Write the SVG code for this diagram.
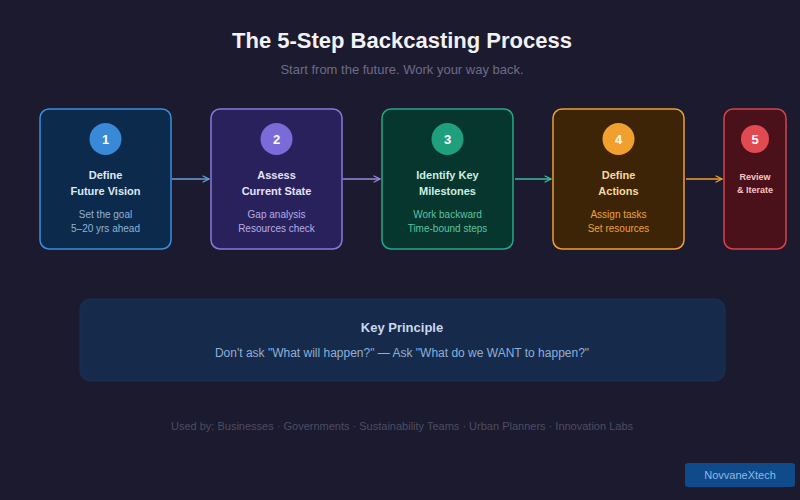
<svg xmlns="http://www.w3.org/2000/svg" width="800" height="500" viewBox="0 0 800 500">
  <style>
    text { font-family: "Liberation Sans", Arial, sans-serif; text-anchor: middle; }
    .box { stroke-width: 1.5; }
    .num { font-size: 13px; font-weight: bold; fill: #ffffff; }
    .ttl { font-size: 11px; font-weight: bold; }
    .sub { font-size: 10px; }
    .con { fill: none; stroke-width: 1.5; }
  </style>
  <defs>
    <marker id="ab" viewBox="0 0 10 10" refX="9" refY="5" markerWidth="8" markerHeight="8" orient="auto" markerUnits="userSpaceOnUse">
      <path d="M1,1 L9,5 L1,9" fill="none" stroke="#6aa0d8" stroke-width="1.6"/>
    </marker>
    <marker id="ap" viewBox="0 0 10 10" refX="9" refY="5" markerWidth="8" markerHeight="8" orient="auto" markerUnits="userSpaceOnUse">
      <path d="M1,1 L9,5 L1,9" fill="none" stroke="#9a88e0" stroke-width="1.6"/>
    </marker>
    <marker id="ag" viewBox="0 0 10 10" refX="9" refY="5" markerWidth="8" markerHeight="8" orient="auto" markerUnits="userSpaceOnUse">
      <path d="M1,1 L9,5 L1,9" fill="none" stroke="#3fbf9c" stroke-width="1.6"/>
    </marker>
    <marker id="ao" viewBox="0 0 10 10" refX="9" refY="5" markerWidth="8" markerHeight="8" orient="auto" markerUnits="userSpaceOnUse">
      <path d="M1,1 L9,5 L1,9" fill="none" stroke="#f0a030" stroke-width="1.6"/>
    </marker>
  </defs>

  <rect x="0" y="0" width="800" height="500" fill="#1b1a2e"/>

  <g id="title">
    <text x="402" y="48" font-size="22" font-weight="bold" fill="#f2f2f6">The 5-Step Backcasting Process</text>
    <text x="402" y="74" font-size="13" fill="#6e6c88">Start from the future. Work your way back.</text>
  </g>

  <g id="connectors">
    <line class="con" x1="172" y1="179" x2="209" y2="179" stroke="#6aa0d8" marker-end="url(#ab)"/>
    <line class="con" x1="343" y1="179" x2="380" y2="179" stroke="#9a88e0" marker-end="url(#ap)"/>
    <line class="con" x1="515" y1="179" x2="551" y2="179" stroke="#3fbf9c" marker-end="url(#ag)"/>
    <line class="con" x1="686" y1="179" x2="722" y2="179" stroke="#f0a030" marker-end="url(#ao)"/>
  </g>

  <g id="step1">
    <rect class="box" x="40" y="109" width="131" height="140" rx="9" fill="#0c2b4c" stroke="#3a8fe0"/>
    <circle cx="105.5" cy="139" r="16" fill="#3a88d8"/>
    <text class="num" x="105.5" y="144">1</text>
    <text class="ttl" x="105.5" y="179" fill="#dfe8f3">Define</text>
    <text class="ttl" x="105.5" y="195" fill="#dfe8f3">Future Vision</text>
    <text class="sub" x="105.5" y="218" fill="#8fb2d8">Set the goal</text>
    <text class="sub" x="105.5" y="232" fill="#8fb2d8">5–20 yrs ahead</text>
  </g>

  <g id="step2">
    <rect class="box" x="211" y="109" width="131" height="140" rx="9" fill="#28215c" stroke="#8a78de"/>
    <circle cx="276.5" cy="139" r="16" fill="#7b6bd8"/>
    <text class="num" x="276.5" y="144">2</text>
    <text class="ttl" x="276.5" y="179" fill="#e6e2f7">Assess</text>
    <text class="ttl" x="276.5" y="195" fill="#e6e2f7">Current State</text>
    <text class="sub" x="276.5" y="218" fill="#b6aee6">Gap analysis</text>
    <text class="sub" x="276.5" y="232" fill="#b6aee6">Resources check</text>
  </g>

  <g id="step3">
    <rect class="box" x="382" y="109" width="131" height="140" rx="9" fill="#06362d" stroke="#28a888"/>
    <circle cx="447.5" cy="139" r="16" fill="#1f9f7d"/>
    <text class="num" x="447.5" y="144">3</text>
    <text class="ttl" x="447.5" y="179" fill="#cdeee2">Identify Key</text>
    <text class="ttl" x="447.5" y="195" fill="#cdeee2">Milestones</text>
    <text class="sub" x="447.5" y="218" fill="#5cc3a0">Work backward</text>
    <text class="sub" x="447.5" y="232" fill="#5cc3a0">Time-bound steps</text>
  </g>

  <g id="step4">
    <rect class="box" x="553" y="109" width="131" height="140" rx="9" fill="#3d2406" stroke="#eea032"/>
    <circle cx="618.5" cy="139" r="16" fill="#f0a02e"/>
    <text class="num" x="618.5" y="144">4</text>
    <text class="ttl" x="618.5" y="179" fill="#f6d9a2">Define</text>
    <text class="ttl" x="618.5" y="195" fill="#f6d9a2">Actions</text>
    <text class="sub" x="618.5" y="218" fill="#e9a23e">Assign tasks</text>
    <text class="sub" x="618.5" y="232" fill="#e9a23e">Set resources</text>
  </g>

  <g id="step5">
    <rect class="box" x="724" y="109" width="62" height="140" rx="9" fill="#4a111a" stroke="#d8434e"/>
    <circle cx="755" cy="139" r="14" fill="#e04a50"/>
    <text class="num" x="755" y="143.5" font-size="12">5</text>
    <text x="755" y="180" font-size="9" font-weight="bold" fill="#f4c6c4">Review</text>
    <text x="755" y="193" font-size="9" font-weight="bold" fill="#f4c6c4">&amp; Iterate</text>
  </g>

  <g id="principle">
    <rect x="80" y="299" width="645" height="82" rx="10" fill="#162a4b" stroke="#1b3053" stroke-width="1"/>
    <text x="402" y="332" font-size="13" font-weight="bold" fill="#c9d8ef">Key Principle</text>
    <text x="402" y="357" font-size="12" fill="#8fb0d6">Don't ask "What will happen?" — Ask "What do we WANT to happen?"</text>
  </g>

  <g id="footer">
    <text x="402" y="430" font-size="11" fill="#4d4c64">Used by: Businesses · Governments · Sustainability Teams · Urban Planners · Innovation Labs</text>
  </g>

  <g id="badge">
    <rect x="685" y="463" width="110" height="24" rx="3" fill="#0f4a8a"/>
    <text x="740" y="479" font-size="11" fill="#8fb8e8">NovvaneXtech</text>
  </g>
</svg>
